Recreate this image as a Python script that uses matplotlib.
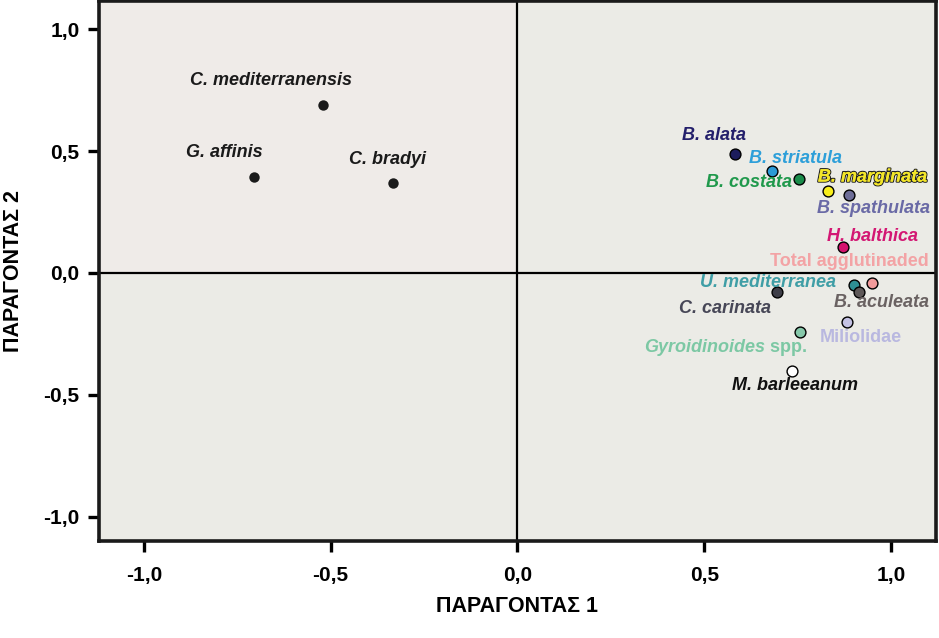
import numpy as np
import matplotlib
matplotlib.use('Agg')
import matplotlib.pyplot as plt
import matplotlib.patheffects as pe

plt.rcParams['font.family'] = ['Liberation Sans', 'DejaVu Sans']

# Factor loadings
names = ['C. mediterranensis', 'G. affinis', 'C. bradyi',
         'B. alata', 'B. striatula', 'B. costata', 'B. marginata',
         'B. spathulata', 'H. balthica', 'Total agglutinaded',
         'U. mediterranea', 'B. aculeata', 'C. carinata', 'Miliolidae',
         'Gyroidinoides spp.', 'M. barleeanum']
factor1 = [-0.521, -0.706, -0.334, 0.583, 0.682, 0.754, 0.832, 0.888,
           0.872, 0.949, 0.901, 0.914, 0.695, 0.882, 0.757, 0.735]
factor2 = [0.689, 0.393, 0.369, 0.488, 0.418, 0.385, 0.336, 0.320,
           0.107, -0.041, -0.049, -0.078, -0.078, -0.201, -0.242, -0.402]

tick_vals = [-1.0, -0.5, 0.0, 0.5, 1.0]
tick_labels = ['-1,0', '-0,5', '0,0', '0,5', '1,0']

# styling per species
dot_colors = ['#1a1a1a', '#1a1a1a', '#1a1a1a', '#1c1c5c', '#2b9ad6', '#1a8c4a',
              '#f8ee1a', '#6e6e98', '#d4136e', '#f29b9b', '#2e8f94', '#5e5858',
              '#3e3e48', '#c4c2e4', '#86c8aa', '#ffffff']
text_colors = ['#1a1a1a', '#1a1a1a', '#1a1a1a', '#231f6b', '#2d9fd9', '#20994c',
               '#f3e62a', '#6a6aa6', '#d31773', '#f3a3a5', '#3f9ea6', '#6a6262',
               '#474757', '#b9b8e0', '#7cc8a4', '#111111']
upright = {'Total agglutinaded', 'Miliolidae'}
# label offsets (pixels, x right / y up) from the dot
label_off = {
    'C. mediterranensis': (-52, 25), 'G. affinis': (-29, 25), 'C. bradyi': (-5, 24),
    'B. alata': (-21, 19), 'B. striatula': (23, 13), 'B. costata': (-50, -3),
    'B. marginata': (44, 14), 'B. spathulata': (24, -13), 'H. balthica': (29, 10),
    'Total agglutinaded': (-23, 21), 'U. mediterranea': (-86, 2),
    'B. aculeata': (22, -11), 'C. carinata': (-52, -17), 'Miliolidae': (14, -16),
    'Gyroidinoides spp.': (-74, -16), 'M. barleeanum': (3, -15),
}

fig = plt.figure(figsize=(9.39, 6.38), dpi=100)
fig.patch.set_facecolor('white')
ax = fig.add_axes([0.1054, 0.152, 0.8914, 0.846])

xmin, xmax = -1.12, 1.12
ymin, ymax = -1.10, 1.115
ax.set_xlim(xmin, xmax)
ax.set_ylim(ymin, ymax)
ax.set_facecolor('#ebebe6')

# upper-left quadrant is slightly warmer
ax.fill_between([xmin, 0], 0, ymax, color='#efebe8', zorder=0, lw=0)

ax.axhline(0, color='black', lw=1.6, zorder=1)
ax.axvline(0, color='black', lw=1.6, zorder=1)

lab_kw = dict(fontsize=13, fontweight='bold', zorder=4)
for i, nm in enumerate(names):
    left = factor1[i] < 0
    ax.plot(factor1[i], factor2[i], 'o', ms=7.5 if left else 7.8,
            mfc=dot_colors[i], mec=dot_colors[i] if left else 'black',
            mew=0 if left else 1.0, zorder=3)
    dx, dy = label_off[nm]
    if nm == 'Gyroidinoides spp.':
        # genus in italics, "spp." upright
        t = ax.annotate('Gyroidinoides', (factor1[i], factor2[i]), xytext=(dx - 22, dy),
                        textcoords='offset pixels', ha='center', va='center',
                        fontstyle='italic', color=text_colors[i], **lab_kw)
        ax.annotate(' spp.', xy=(1, 0), xycoords=t, ha='left', va='bottom',
                    fontstyle='normal', color=text_colors[i], **lab_kw)
        continue
    t = ax.annotate(nm, (factor1[i], factor2[i]), xytext=(dx, dy),
                    textcoords='offset pixels', ha='center', va='center',
                    fontstyle='normal' if nm in upright else 'italic',
                    color=text_colors[i], **lab_kw)
    if nm == 'B. marginata':
        t.set_path_effects([pe.withStroke(linewidth=1.6, foreground='#222222'),
                            pe.Normal()])

ax.set_xticks(tick_vals)
ax.set_xticklabels(tick_labels)
ax.set_yticks(tick_vals)
ax.set_yticklabels(tick_labels)
ax.tick_params(direction='out', length=8, width=2.4, labelsize=15)
ax.tick_params(axis='x', pad=10)
ax.tick_params(axis='y', pad=6)
for lab in ax.get_xticklabels() + ax.get_yticklabels():
    lab.set_fontweight('bold')

for sp in ax.spines.values():
    sp.set_linewidth(2.6)
    sp.set_color('#1a1a1a')

ax.set_xlabel('ΠΑΡΑΓΟΝΤΑΣ 1', fontsize=15.5, fontweight='bold', labelpad=8)
ax.set_ylabel('ΠΑΡΑΓΟΝΤΑΣ 2', fontsize=15.5, fontweight='bold', labelpad=14)

fig.savefig('out.png', dpi=100, facecolor=fig.get_facecolor())
